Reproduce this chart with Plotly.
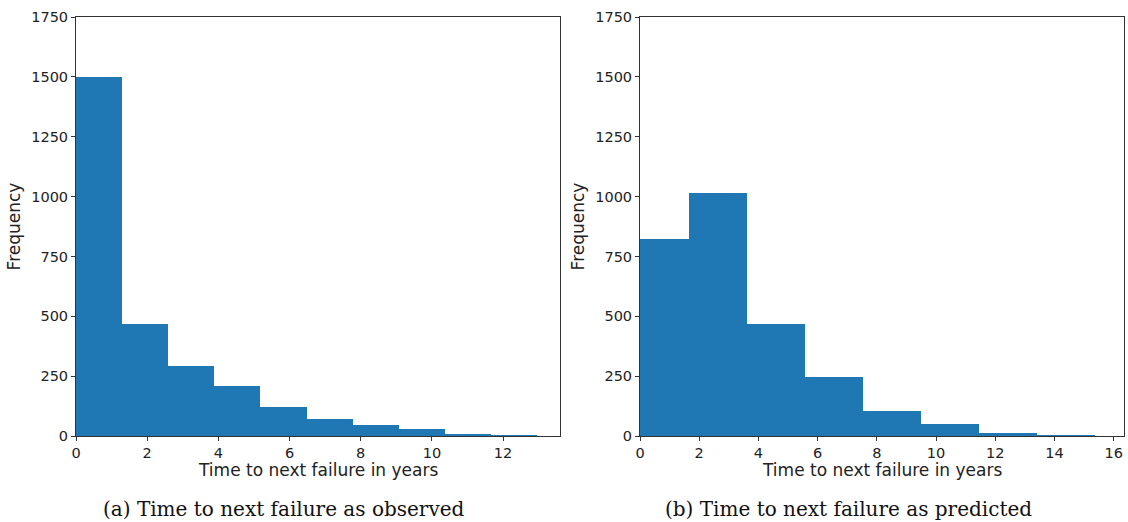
import plotly.graph_objects as go

# Histogram data
obs_bin_edges = [0.0, 1.30, 2.59, 3.89, 5.18, 6.48, 7.78, 9.07, 10.37, 11.66, 12.96]
obs_counts = [1500, 468, 291, 208, 122, 70, 46, 29, 10, 4]

pred_bin_edges = [-0.32, 1.64, 3.60, 5.56, 7.52, 9.48, 11.44, 13.40, 15.36]
pred_counts = [821, 1017, 468, 246, 106, 50, 13, 4]

y_ticks = [0, 250, 500, 750, 1000, 1250, 1500, 1750]
obs_x_ticks = [0, 2, 4, 6, 8, 10, 12]
pred_x_ticks = [0, 2, 4, 6, 8, 10, 12, 14, 16]

x_title = "Time to next failure in years"
y_title = "Frequency"
caption_a = "(a) Time to next failure as observed"
caption_b = "(b) Time to next failure as predicted"

BAR = "#1f77b4"
W, H = 1128, 522


def bars(edges, counts, xa, ya):
    lefts = edges[:-1]
    widths = [edges[i + 1] - edges[i] for i in range(len(counts))]
    return go.Bar(x=lefts, y=counts, width=widths, offset=0,
                  marker=dict(color=BAR, line=dict(width=0)),
                  xaxis=xa, yaxis=ya, showlegend=False, hoverinfo="skip")


fig = go.Figure()
fig.add_trace(bars(obs_bin_edges, obs_counts, "x", "y"))
fig.add_trace(bars(pred_bin_edges, pred_counts, "x2", "y2"))

ydom = [1 - 436 / H, 1 - 17 / H]
xdom1 = [76 / W, 560 / W]
xdom2 = [640 / W, 1124 / W]
axis_common = dict(showline=True, mirror=True, linecolor="#333", linewidth=1,
                   ticks="outside", ticklen=4, tickcolor="#333", showgrid=False,
                   zeroline=False, automargin=False,
                   tickfont=dict(family="DejaVu Sans", size=14.5, color="#222"))
title_font = dict(family="DejaVu Sans", size=17, color="#222")
caption_font = dict(family="DejaVu Serif", size=20, color="#111")


def note(text, xc, yc, font):
    return dict(text=text, x=xc, y=yc, xref="paper", yref="paper",
                xanchor="center", yanchor="middle", showarrow=False, font=font)


fig.update_layout(
    width=W, height=H,
    margin=dict(l=0, r=0, t=0, b=0),
    paper_bgcolor="white", plot_bgcolor="white",
    bargap=0,
    xaxis=dict(domain=xdom1, range=[0, 13.6], tickvals=obs_x_ticks,
               anchor="y", **axis_common),
    yaxis=dict(domain=ydom, range=[0, 1750], tickvals=y_ticks,
               title=dict(text=y_title, font=title_font, standoff=6),
               anchor="x", **axis_common),
    xaxis2=dict(domain=xdom2, range=[0, 16.35], tickvals=pred_x_ticks,
                anchor="y2", **axis_common),
    yaxis2=dict(domain=ydom, range=[0, 1750], tickvals=y_ticks,
                title=dict(text=y_title, font=title_font, standoff=6),
                anchor="x2", **axis_common),
    annotations=[
        note(x_title, sum(xdom1) / 2, 1 - 470 / H, title_font),
        note(x_title, sum(xdom2) / 2, 1 - 470 / H, title_font),
        note(caption_a, 284 / W, 1 - 509 / H, caption_font),
        note(caption_b, 848 / W, 1 - 509 / H, caption_font),
    ],
)

fig.write_html("out.html")
